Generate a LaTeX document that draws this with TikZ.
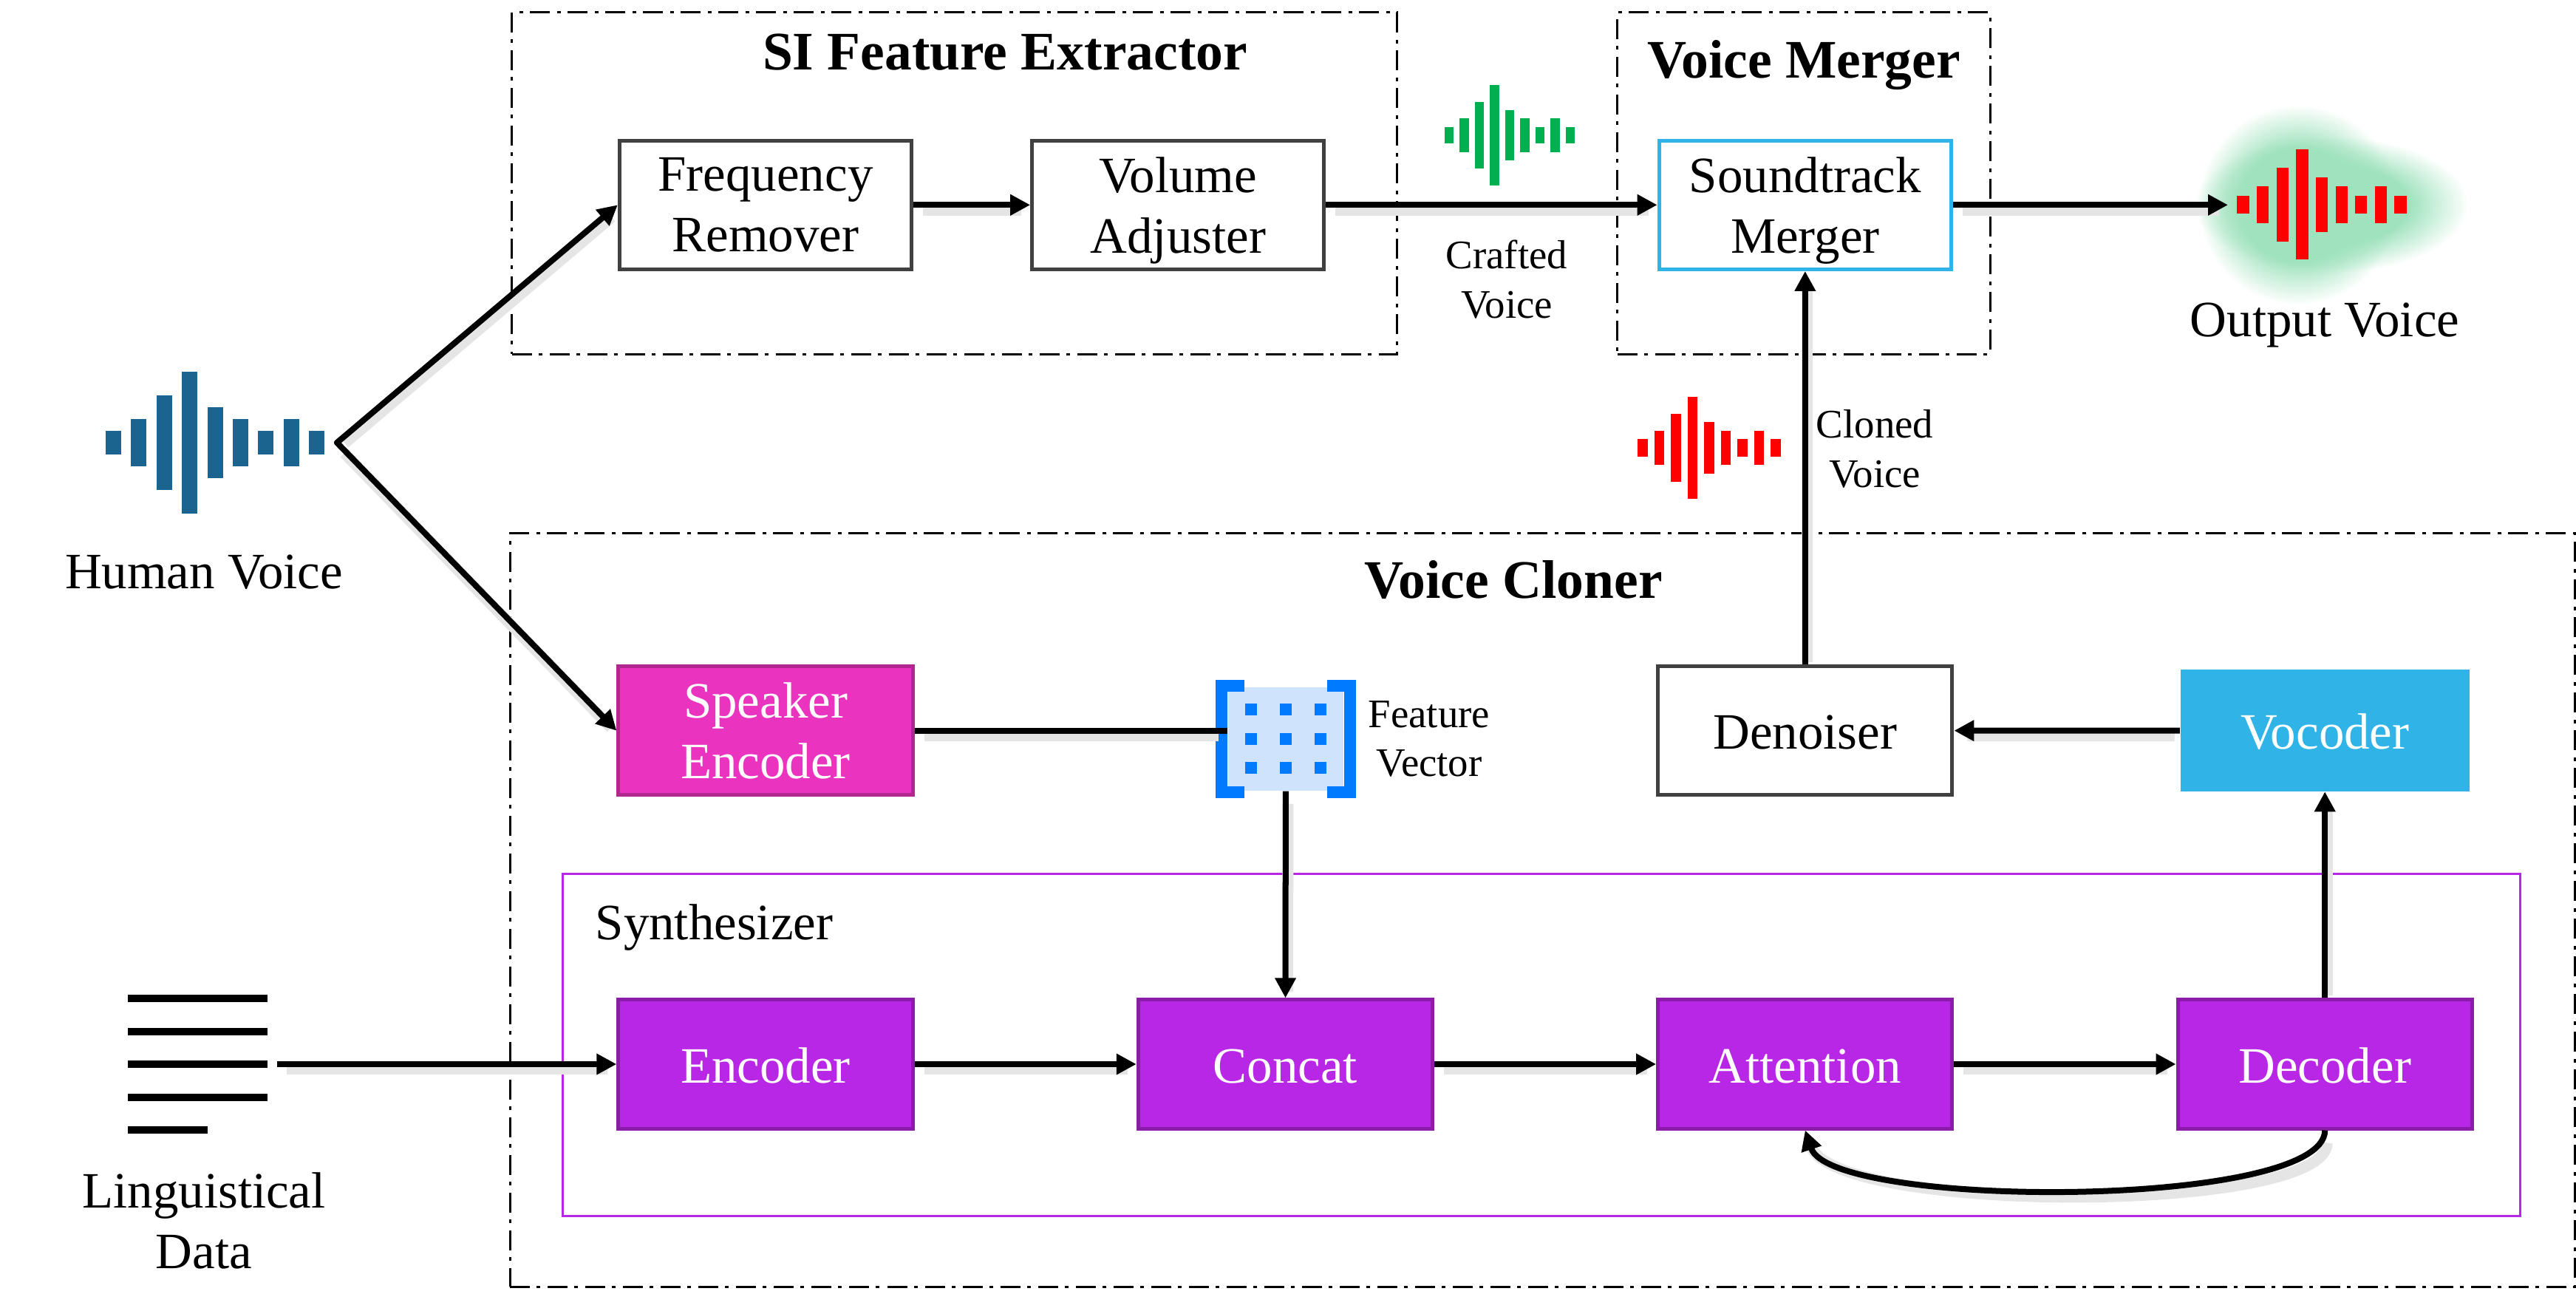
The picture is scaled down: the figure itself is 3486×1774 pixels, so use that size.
\documentclass[tikz,border=0pt]{standalone}
\usepackage{fontspec}
\setmainfont{Liberation Serif}
\usetikzlibrary{%
	calc,%
	arrows.meta,%
	fadings,%
	positioning,%
}
\definecolor{cpurple}{RGB}{184, 39, 230}
\definecolor{cpurpledark}{RGB}{138, 28, 168}
\definecolor{cpink}{RGB}{234, 51, 190}
\definecolor{cpinkdark}{RGB}{176, 40, 143}
\definecolor{csky}{RGB}{48, 180, 232}
\definecolor{cwave}{RGB}{27, 100, 144}
\definecolor{cgreenwave}{RGB}{0, 176, 80}
\definecolor{cglow}{RGB}{159, 226, 189}
\definecolor{cvector}{RGB}{0, 123, 255}
\definecolor{cvectorlight}{RGB}{207, 228, 252}
\pgfdeclareradialshading{glowshade}{\pgfpointorigin}{%
	color(0bp)=(pgftransparent!0);%
	color(14bp)=(pgftransparent!0);%
	color(25bp)=(pgftransparent!100);%
	color(50bp)=(pgftransparent!100)}
\pgfdeclarefading{glowfade}{\pgfuseshading{glowshade}}
\tikzset{
	>={Triangle[length=.27cm,width=.27cm]},%
	nodes={align=center},%
	plainbox/.style={%
			draw=black!75,%
			rectangle,%
			line width=.05cm,%
			minimum width=3.95cm,%
			minimum height=1.74cm,%
			text depth=0pt,%
			execute at begin node={\rule{0pt}{.5cm}},%
			fill=white},%
	twolines/.style={execute at begin node={\rule{0pt}{.72cm}}},%
	mergebox/.style={plainbox,draw=csky},%
	purplebox/.style={plainbox,%
			draw=cpurpledark,%
			fill=cpurple,%
			text=white},%
	pinkbox/.style={plainbox,%
			draw=cpinkdark,%
			fill=cpink,%
			text=white},%
	skybox/.style={%
			rectangle,%
			minimum width=3.91cm,%
			minimum height=1.64cm,%
			text depth=0pt,%
			execute at begin node={\rule{0pt}{.5cm}},%
			fill=csky,%
			text=white},%
	regionbox/.style={%
			draw,%
			rectangle,%
			line width=.03cm,%
			dash pattern=on .27cm off .09cm on .05cm off .1cm},%
	titlelabel/.style={font=\fontsize{20.9}{25}\selectfont\bfseries},%
	biglabel/.style={font=\fontsize{19.6}{23.3}\selectfont},%
	smalllabel/.style={font=\fontsize{15.6}{19}\selectfont},%
	conn/.style={%
			line width=.08cm,%
			preaction={draw=black!10, -, line width=.15cm,%
					shorten >=.15cm, shorten <=.1cm,%
					transform canvas={shift={(3,7)}}}},%
}
\newcommand{\voicewave}[5]{%
	\foreach \barh [count=\barno] in {1,2,4,6,3,2,1,2,1} {
		\fill[#5] ({#1+(\barno-5)*34.4*#3-10.5*#3},{#2-\barh*16*#4}) rectangle ({#1+(\barno-5)*34.4*#3+10.5*#3},{#2+\barh*16*#4});
	}
}

\begin{document}
\begin{tikzpicture}[x=.01cm,y=-.01cm,nodes={biglabel}]%
	\useasboundingbox (0,0) rectangle (3486,1774);

	\node[regionbox, minimum width=11.97cm, minimum height=4.62cm] (sibox) at (1291.5,248) {};
	\node[regionbox, minimum width=5.04cm, minimum height=4.62cm] (mergerbox) at (2441,248) {};
	\node[regionbox, minimum width=27.93cm, minimum height=10.19cm] (clonerbox) at (2087.5,1231.5) {};
	\node[draw=cpurple, line width=.03cm, minimum width=26.48cm, minimum height=4.62cm] (synthbox) at (2086,1414) {};

	\node[titlelabel] (sititle) at (1360,71) {SI Feature Extractor};
	\node[titlelabel] (mergertitle) at (2441,88) {Voice Merger};
	\node[titlelabel] (clonertitle) at (2048,785) {Voice Cloner};
	\node[anchor=west, inner sep=0] (synthtitle) at (805,1255) {Synthesizer};

	\node[purplebox, minimum width=3.98cm] (encoder) at (1036,1440) {Encoder};
	\node[purplebox, minimum width=3.98cm] (concat) [right=3cm of encoder] {Concat};
	\node[purplebox, minimum width=3.98cm] (attention) [right=3cm of concat] {Attention};
	\node[purplebox, minimum width=3.98cm] (decoder) [right=3cm of attention] {Decoder};

	\node[pinkbox, twolines, minimum width=3.98cm] (speaker) [above=2.72cm of encoder] {Speaker\\Encoder};
	\node[plainbox, minimum width=3.98cm] (denoiser) [above=2.72cm of attention] {Denoiser};
	\node[skybox] (vocoder) [above=2.79cm of decoder] {Vocoder};
	\node[plainbox, twolines] (freq) [above=5.32cm of speaker] {Frequency\\Remover};
	\node[plainbox, twolines] (volume) [right=1.58cm of freq] {Volume\\Adjuster};
	\node[mergebox, twolines] (merger) [above=5.32cm of denoiser] {Soundtrack\\Merger};

	\node[fill=cvectorlight, inner sep=0, minimum width=1.56cm, minimum height=1.4cm] (fvec) at (1740,1000) {};
	\foreach \dotx in {-47,0,47} {
		\foreach \doty in {-40,0,39} {
			\fill[cvector] ($(fvec)+(\dotx-8,\doty-8)$) rectangle ($(fvec)+(\dotx+8,\doty+8)$);
		}
	}
	\draw[cvector, line width=.16cm] ($(fvec.north west)+(23,-1)$) -- ($(fvec.north west)+(-8,-1)$) -- ($(fvec.south west)+(-8,1)$) -- ($(fvec.south west)+(23,1)$);
	\draw[cvector, line width=.16cm] ($(fvec.north east)+(-23,-1)$) -- ($(fvec.north east)+(8,-1)$) -- ($(fvec.south east)+(8,1)$) -- ($(fvec.south east)+(-23,1)$);

	\node[smalllabel] (fveclabel) at (1934,1000) {Feature\\Vector};
	\node[smalllabel] (craftedlabel) at (2039,378) {Crafted\\Voice};
	\node[smalllabel] (clonedlabel) at (2537,607) {Cloned\\Voice};

	\fill[cglow, path fading=glowfade] (3155,277) ellipse [x radius=185, y radius=92];
	\fill[cglow, path fading=glowfade] (3110,277) ellipse [x radius=135, y radius=135];

	\voicewave{291}{599}{1}{1}{cwave}
	\voicewave{2043}{183}{.595}{.71}{cgreenwave}
	\voicewave{2313}{606}{.655}{.72}{red}
	\voicewave{3142}{277}{.774}{.776}{red}

	\node (humanlabel) at (276,774) {Human Voice};
	\node (outputlabel) at (3146,440) {Output Voice};
	\node (linglabel) at (276,1652) {Linguistical\\Data};

	\foreach \liney/\lineend in {1351/362,1396/362,1440/362,1485/362,1529/281} {
		\draw[line width=.1cm] (173,\liney) -- (\lineend,\liney);
	}

	\coordinate (humanout) at (456,599);
	\coordinate (lingout) at (375,1440);
	\coordinate (outwave) at (3015,277);

	\draw[conn, line cap=round, ->] (humanout) to (freq.west);
	\draw[conn, line cap=round, ->] (humanout) to (speaker.west);
	\draw[conn, ->] (freq) to (volume);
	\draw[conn, ->] (volume) to (merger);
	\draw[conn, ->] (merger.east) to (merger.east -| outwave);
	\draw[conn, ->] (denoiser) to (merger);
	\draw[conn, ->] (vocoder) to (denoiser);
	\draw[conn, ->] (decoder) to (vocoder);
	\draw[conn] (speaker.east) to (speaker.east -| fvec.west);
	\draw[conn, ->] (fvec) to (concat);
	\draw[conn, ->] (lingout) to (encoder);
	\draw[conn, ->] (encoder) to (concat);
	\draw[conn, ->] (concat) to (attention);
	\draw[conn, ->] (attention) to (decoder);
	\draw[conn, ->] (decoder.south) .. controls ($(decoder.south)+(0,107)$) and ($(attention.south)+(36,107)$) .. (attention.south);
\end{tikzpicture}
\end{document}
